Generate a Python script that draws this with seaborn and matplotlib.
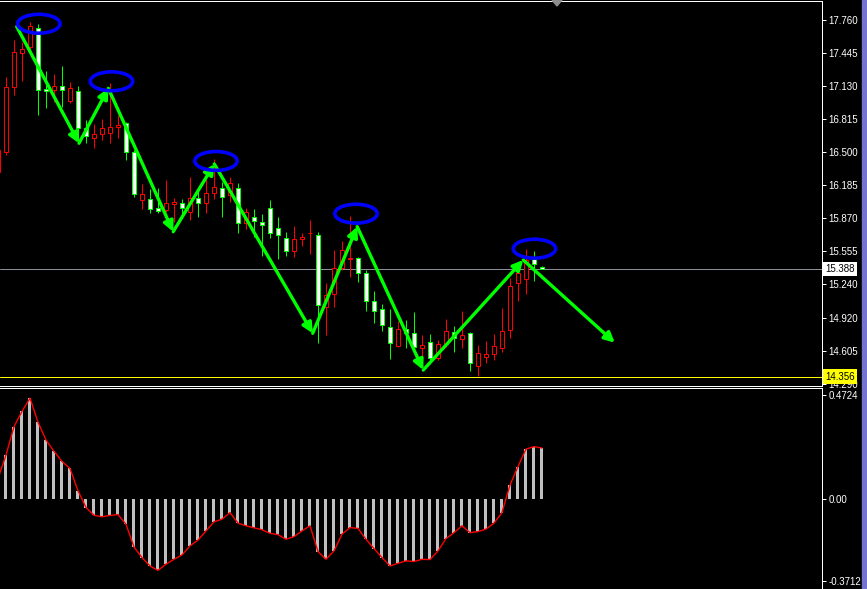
import matplotlib
matplotlib.use('Agg')
import numpy as np
import matplotlib.pyplot as plt
import matplotlib.transforms as mtransforms
from matplotlib.patches import Ellipse, Rectangle, Polygon
import seaborn as sns

sns.set_theme(style='dark')
plt.rcParams['font.family'] = ['Liberation Sans', 'DejaVu Sans']

# bar index (-1 is the half-cut candle at the left edge)
bars = np.arange(-1, 68)

opens = [16.310, 16.503, 17.124, 17.442, 17.505, 17.681, 17.102, 17.092, 17.127, 16.990,
         17.083, 16.727, 16.637, 16.669, 16.679, 16.736, 16.774, 16.503, 16.042, 16.049,
         15.963, 15.947, 16.001, 16.017, 15.925, 16.059, 16.011, 16.106, 16.154, 16.090,
         16.154, 15.826, 15.877, 15.835, 15.963, 15.772, 15.677, 15.556, 15.667, 15.725,
         15.709, 15.024, 15.143, 15.391, 15.477, 15.486, 15.349, 15.082, 15.000, 14.834,
         14.652, 14.812, 14.771, 14.627, 14.690, 14.538, 14.666, 14.786, 14.713, 14.771,
         14.461, 14.547, 14.570, 14.633, 14.799, 15.248, 15.286, 15.480, 15.400]
highs = [16.615, 17.213, 17.569, 17.553, 17.744, 17.722, 17.273, 17.245, 17.321, 17.171,
         17.130, 16.806, 16.765, 16.815, 17.162, 16.854, 16.790, 16.520, 16.195, 16.145,
         16.154, 16.233, 16.059, 16.052, 16.259, 16.122, 16.297, 16.431, 16.217, 16.259,
         16.202, 15.963, 15.954, 15.909, 16.042, 15.877, 15.737, 15.794, 15.730, 15.852,
         15.740, 15.248, 15.565, 15.654, 15.890, 15.501, 15.375, 15.177, 15.050, 15.000,
         14.891, 14.897, 14.977, 14.754, 14.761, 14.707, 14.907, 14.840, 14.983, 14.780,
         14.659, 14.697, 14.761, 15.009, 15.295, 15.384, 15.575, 15.556, 15.412]
lows = [16.271, 16.472, 17.044, 17.181, 17.480, 16.854, 16.923, 16.980, 16.933, 16.965,
        16.615, 16.584, 16.536, 16.615, 16.584, 16.631, 16.424, 16.071, 15.957, 15.916,
        15.918, 15.931, 15.832, 15.899, 15.852, 15.883, 15.916, 16.049, 15.877, 16.026,
        15.730, 15.763, 15.692, 15.508, 15.677, 15.477, 15.508, 15.496, 15.604, 15.527,
        14.675, 14.754, 15.019, 15.375, 15.305, 15.263, 14.986, 14.872, 14.795, 14.522,
        14.637, 14.630, 14.595, 14.450, 14.500, 14.516, 14.643, 14.595, 14.633, 14.411,
        14.360, 14.484, 14.516, 14.589, 14.729, 15.079, 15.143, 15.272, 15.380]
closes = [16.520, 17.118, 17.452, 17.480, 17.703, 17.092, 17.080, 17.130, 17.089, 17.108,
          16.727, 16.653, 16.669, 16.732, 16.742, 16.758, 16.503, 16.097, 16.097, 15.954,
          15.938, 16.011, 16.020, 15.963, 16.059, 16.011, 16.106, 16.164, 16.074, 16.202,
          15.826, 15.931, 15.845, 15.804, 15.725, 15.709, 15.556, 15.667, 15.687, 15.730,
          15.041, 15.136, 15.391, 15.565, 15.486, 15.343, 15.082, 14.986, 14.850, 14.675,
          14.809, 14.773, 14.643, 14.659, 14.532, 14.666, 14.792, 14.729, 14.754, 14.484,
          14.580, 14.570, 14.649, 14.792, 15.222, 15.343, 15.470, 15.429, 15.388]

# MACD-style histogram (same bars)
macd = [0.094, 0.200, 0.329, 0.398, 0.458, 0.349, 0.268, 0.217, 0.171, 0.139,
        0.038, -0.038, -0.073, -0.080, -0.074, -0.070, -0.114, -0.217, -0.265, -0.303,
        -0.323, -0.295, -0.273, -0.253, -0.212, -0.186, -0.144, -0.103, -0.091, -0.061,
        -0.109, -0.121, -0.130, -0.139, -0.155, -0.161, -0.182, -0.170, -0.144, -0.121,
        -0.238, -0.273, -0.235, -0.159, -0.129, -0.133, -0.182, -0.224, -0.265, -0.303,
        -0.291, -0.280, -0.283, -0.273, -0.274, -0.235, -0.179, -0.152, -0.121, -0.152,
        -0.147, -0.136, -0.109, -0.061, 0.064, 0.148, 0.227, 0.238, 0.232]

# zigzag swing points (bar position, price)
zz_x = [1.34, 9.125, 12.79, 20.9, 26.04, 38.34, 43.9, 52.16, 64.66, 76.1]
zz_y = [17.696, 16.584, 17.108, 15.740, 16.386, 14.771, 15.788, 14.420, 15.470, 14.681]

# circled tops
top_x = [4.1, 13.19, 26.25, 43.75, 66.06]
top_y = [17.724, 17.175, 16.415, 15.912, 15.578]

price_ticks = [17.760, 17.445, 17.130, 16.815, 16.500, 16.185, 15.870,
               15.555, 15.240, 14.920, 14.605, 14.290]
macd_ticks = [0.4724, 0.0, -0.3712]
macd_labels = ['0.4724', '0.00', '-0.3712']
last_price = 15.388
low_price = 14.356

W, H = 867, 589
fig = plt.figure(figsize=(W / 100, H / 100), dpi=100, facecolor='black')
ax = fig.add_axes([0, 1 - 386 / H, 821.5 / W, 385 / H])
ax2 = fig.add_axes([0, 0, 821.5 / W, 201 / H])

px = 0.72  # one pixel in points

# --- price panel
up = np.array(closes) >= np.array(opens)
wick_col = np.where(up, '#ff0000', '#00ff00')
ax.vlines(bars, lows, highs, colors=wick_col, lw=px, zorder=2)
bottoms = np.minimum(opens, closes)
heights = np.maximum(np.abs(np.array(closes) - np.array(opens)), 0.004)
ax.bar(bars, heights, bottom=bottoms, width=0.5,
       color=np.where(up, 'black', 'white'), edgecolor=wick_col,
       linewidth=px, zorder=3)

ax.axhline(last_price, color='#8a8f99', lw=px, zorder=1)
ax.axhline(low_price, color='#ffff00', lw=px, zorder=1)

for k in range(len(zz_x) - 1):
    ax.annotate('', xy=(zz_x[k + 1], zz_y[k + 1]), xytext=(zz_x[k], zz_y[k]),
                arrowprops=dict(arrowstyle='-|>,head_length=0.6,head_width=0.3',
                                color='#00ff00', lw=2.4, shrinkA=0, shrinkB=0,
                                mutation_scale=10), zorder=4)

for cx, cy in zip(top_x, top_y):
    ax.add_patch(Ellipse((cx, cy), 5.3, 0.18, fill=False, ec='#0000ff',
                         lw=2.6, zorder=5))

ax.set_xlim(-0.75, 101.94)
ax.set_ylim(14.268, 17.941)
ax.set_facecolor('black')
ax.set_xticks([])
ax.yaxis.tick_right()
ax.set_yticks(price_ticks)
ax.set_yticklabels([f'{t:.3f}' for t in price_ticks])

tr = mtransforms.blended_transform_factory(ax.transAxes, ax.transData)
ax.text(1.0045, last_price, f'{last_price:.3f}', transform=tr, va='center', ha='left',
        fontsize=7, color='black', clip_on=False, zorder=10,
        bbox=dict(boxstyle='square,pad=0.2', fc='white', ec='none'))
ax.text(1.0045, low_price, f'{low_price:.3f}', transform=tr, va='center', ha='left',
        fontsize=7, color='black', clip_on=False, zorder=10,
        bbox=dict(boxstyle='square,pad=0.25', fc='#ffff00', ec='none'))

# --- indicator panel
sns.barplot(x=bars, y=macd, native_scale=True, width=0.375, color='#c0c0c0',
            saturation=1, linewidth=0, errorbar=None, ax=ax2)
sns.lineplot(x=bars, y=macd, color='#ff0000', lw=1.0, ax=ax2)
ax2.set_xlim(-0.75, 101.94)
ax2.set_ylim(-0.4075, 0.504)
ax2.set_facecolor('black')
ax2.set_xticks([])
ax2.set_xlabel('')
ax2.set_ylabel('')
ax2.yaxis.tick_right()
ax2.set_yticks(macd_ticks)
ax2.set_yticklabels(macd_labels)

for a in (ax, ax2):
    a.grid(False)
    a.tick_params(axis='y', colors='white', length=3, width=px, labelsize=7, pad=2,
                  direction='out')
    for s in ('top', 'right', 'bottom'):
        a.spines[s].set_color('white')
        a.spines[s].set_linewidth(px)
        a.spines[s].set_visible(True)
    a.spines['left'].set_visible(False)
ax2.spines['bottom'].set_visible(False)

# window chrome: scroll stripe and shift marker
fig.add_artist(Rectangle((862 / W, 0), 5 / W, 1, transform=fig.transFigure,
                         color='#7474d0', zorder=20))
fig.add_artist(Polygon([(552 / W, 1), (562 / W, 1), (557 / W, 1 - 6 / H)],
                       closed=True, transform=fig.transFigure, color='#8c8c8c', zorder=20))

fig.savefig('out.png', dpi=100, facecolor='black')
